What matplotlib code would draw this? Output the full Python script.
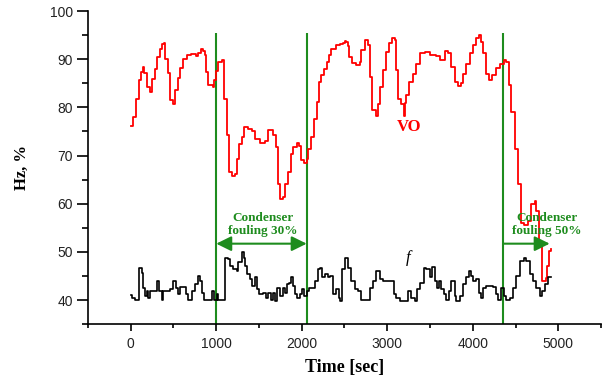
import matplotlib
matplotlib.use("Agg")
import matplotlib.pyplot as plt
from matplotlib.ticker import MultipleLocator

# VO series (red), time [sec] and value
vo_time = [0, 30, 62, 93, 120, 140, 155, 187, 225, 245, 284, 303, 342, 369, 393, 400,
           432, 459, 498, 517, 549, 576, 615, 654, 700, 760, 790, 821, 850, 868, 880, 900,
           965, 977, 997, 1024, 1063, 1090, 1093, 1129, 1148, 1180, 1218, 1238, 1265, 1304,
           1327, 1374, 1413, 1452, 1510, 1569, 1607, 1659, 1697, 1717, 1744, 1783, 1803, 1834,
           1869, 1900, 1939, 1970, 1990, 2025, 2056, 2075, 2106, 2141, 2173, 2203, 2231, 2258,
           2290, 2320, 2348, 2406, 2445, 2484, 2503, 2523, 2545, 2554, 2582, 2640, 2679, 2698,
           2737, 2776, 2796, 2827, 2874, 2893, 2921, 2951, 2983, 3021, 3061, 3088, 3107, 3126,
           3166, 3193, 3205, 3216, 3255, 3301, 3341, 3380, 3438, 3497, 3575, 3614, 3672, 3711,
           3750, 3789, 3828, 3867, 3886, 3925, 3964, 4002, 4042, 4069, 4100, 4119, 4151, 4189,
           4229, 4276, 4314, 4361, 4392, 4423, 4451, 4490, 4528, 4560, 4600, 4645, 4685, 4723,
           4743, 4774, 4813, 4852, 4867, 4890, 4918]
vo_value = [76.2, 78.1, 81.8, 85.6, 87.4, 88.4, 87.1, 84.2, 83.2, 85.8, 87.9, 90.4, 92.2, 93.1, 93.3, 90.1,
            87.1, 81.5, 80.6, 83.5, 86.0, 88.1, 90.1, 90.8, 91.0, 90.6, 91.2, 92.2, 91.6, 90.8, 87.4, 84.6,
            84.2, 85.6, 87.6, 89.4, 89.8, 89.1, 81.8, 74.2, 66.5, 65.8, 66.2, 69.3, 72.4, 73.8,
            75.9, 75.6, 75.1, 73.5, 72.6, 73.0, 75.2, 74.2, 71.8, 64.1, 61.0, 61.3, 64.1, 66.5,
            70.3, 71.8, 72.6, 72.0, 69.0, 68.4, 69.3, 71.4, 73.8, 77.6, 81.1, 85.3, 86.7, 87.9,
            89.4, 90.8, 92.2, 92.9, 93.1, 93.4, 93.8, 93.6, 92.7, 90.5, 89.2, 88.8, 89.4, 91.9,
            94.0, 92.9, 86.3, 79.4, 78.3, 80.8, 84.2, 87.7, 91.5, 93.3, 94.5, 94.0, 87.7, 81.8,
            80.8, 78.3, 81.0, 82.6, 85.3, 87.0, 89.0, 91.2, 91.5, 90.8, 90.6, 89.9, 91.7, 91.3,
            88.4, 85.3, 84.4, 85.0, 87.0, 89.0, 91.2, 92.9, 94.3, 95.0, 93.6, 91.2, 87.0, 85.6,
            86.7, 88.1, 89.1, 89.9, 89.4, 84.6, 79.0, 71.4, 64.1, 56.0, 55.5, 56.5, 59.9, 60.6,
            58.5, 51.6, 44.0, 44.6, 47.1, 50.2, 50.6]

# f series (black)
f_time = [0, 20, 50, 101, 128, 148, 167, 187, 206, 226, 304, 335, 362, 382, 460, 499,
          530, 557, 577, 647, 674, 713, 752, 791, 810, 830, 857, 947, 978, 1005, 1025, 1103,
          1142, 1161, 1200, 1239, 1259, 1298, 1325, 1337, 1356, 1395, 1414, 1453, 1473, 1504,
          1550, 1578, 1609, 1636, 1667, 1687, 1714, 1745, 1776, 1803, 1823, 1854, 1873, 1901,
          1920, 1947, 1979, 2006, 2025, 2056, 2087, 2153, 2192, 2219, 2242, 2270, 2309, 2336,
          2367, 2406, 2437, 2453, 2476, 2503, 2542, 2581, 2620, 2659, 2698, 2795, 2834, 2873,
          2912, 2951, 3080, 3107, 3146, 3243, 3282, 3321, 3348, 3380, 3426, 3458, 3497, 3528,
          3555, 3582, 3605, 3633, 3664, 3691, 3718, 3750, 3789, 3808, 3847, 3886, 3925, 3956,
          3983, 4002, 4042, 4073, 4100, 4119, 4158, 4236, 4267, 4295, 4334, 4361, 4392, 4431,
          4470, 4509, 4548, 4595, 4626, 4665, 4704, 4743, 4782, 4813, 4840, 4879, 4918]
f_value = [41.0, 40.4, 40.0, 46.7, 45.7, 42.6, 40.8, 41.9, 40.5, 41.9, 44.0, 41.9, 40.1, 41.9, 42.2, 44.0,
           42.6, 41.2, 42.7, 41.2, 40.1, 41.9, 43.3, 45.0, 44.0, 41.5, 40.1, 41.9, 40.1, 41.2, 40.1, 48.8,
           48.5, 47.1, 46.4, 46.0, 47.8, 49.9, 48.8, 47.1, 45.3, 44.3, 42.9, 44.7, 42.2, 41.2,
           41.5, 40.5, 41.5, 40.0, 41.5, 39.8, 42.6, 40.8, 42.6, 41.5, 43.3, 43.6, 44.7, 42.9,
           41.2, 40.5, 41.2, 42.2, 40.8, 41.9, 42.6, 44.0, 46.4, 46.7, 44.7, 45.3, 44.7, 45.0,
           41.2, 42.2, 40.5, 39.7, 46.4, 48.8, 46.7, 44.0, 42.2, 41.9, 40.1, 42.6, 44.0, 46.0,
           44.3, 44.0, 41.2, 40.5, 39.8, 41.9, 40.5, 39.8, 42.2, 43.6, 46.7, 46.4, 44.7, 46.9,
           44.0, 42.6, 44.0, 42.2, 41.2, 40.1, 41.9, 44.0, 40.8, 39.8, 40.8, 43.3, 44.7, 46.0,
           45.0, 44.0, 44.3, 41.5, 40.5, 42.6, 42.9, 42.7, 41.2, 40.1, 42.6, 40.8, 40.1, 40.5,
           42.6, 45.0, 48.1, 48.8, 48.1, 45.3, 44.0, 42.6, 40.8, 41.9, 43.3, 44.7, 44.7]

# event markers
fouling_lines = [1000, 2058, 4358]
x_ticks = [0, 1000, 2000, 3000, 4000, 5000]
y_ticks = [40, 50, 60, 70, 80, 90, 100]

GREEN = "#1e8c1e"
serif = "Liberation Serif"

fig = plt.figure(figsize=(6.08, 3.76), dpi=100)
ax = fig.add_axes([0.1447, 0.138, 0.8438, 0.8327])

ax.plot(vo_time, vo_value, color="red", lw=1.3, drawstyle="steps-post", zorder=3)
ax.plot(f_time, f_value, color="black", lw=1.2, drawstyle="steps-post", zorder=3)

ax.vlines(fouling_lines, 35, 95.5, color=GREEN, lw=1.5, zorder=2)

arrow_kw = dict(color=GREEN, lw=1.5, shrinkA=0, shrinkB=0)
ax.annotate("", xy=(fouling_lines[1], 51.7), xytext=(fouling_lines[0], 51.7),
            arrowprops=dict(arrowstyle="<|-|>,head_length=0.65,head_width=0.32",
                            mutation_scale=14, **arrow_kw), zorder=5)
ax.annotate("", xy=(4900, 51.7), xytext=(fouling_lines[2], 51.7),
            arrowprops=dict(arrowstyle="-|>,head_length=0.65,head_width=0.32",
                            mutation_scale=14, **arrow_kw), zorder=5)

ax.text(1546, 55.7, "Condenser\nfouling 30%", color=GREEN, ha="center", va="center",
        family=serif, weight="bold", fontsize=9.5, linespacing=1.1, zorder=6)
ax.text(4867, 55.6, "Condenser\nfouling 50%", color=GREEN, ha="center", va="center",
        family=serif, weight="bold", fontsize=9.5, linespacing=1.1, zorder=6)
ax.text(3252, 75.9, "VO", color="red", ha="center", va="center",
        family=serif, weight="bold", fontsize=12, zorder=6)
ax.text(3243, 48.8, "f", color="black", ha="center", va="center",
        family=serif, style="italic", fontsize=12, zorder=6)

ax.set_xlim(-500, 5500)
ax.set_ylim(35, 100)
ax.set_xticks(x_ticks)
ax.set_yticks(y_ticks)
ax.xaxis.set_minor_locator(MultipleLocator(500))
ax.yaxis.set_minor_locator(MultipleLocator(5))
ax.tick_params(axis="x", which="major", direction="out", length=5, width=1.2, labelsize=10, pad=4)
ax.tick_params(axis="x", which="minor", direction="out", length=3, width=1.2)
ax.tick_params(axis="y", which="major", direction="out", length=8, width=1.2, labelsize=10, pad=3)
ax.tick_params(axis="y", which="minor", direction="out", length=4, width=1.2)
for lab in ax.get_xticklabels() + ax.get_yticklabels():
    lab.set_family("Liberation Sans")
    lab.set_color("#222222")

for s in ["top", "right"]:
    ax.spines[s].set_visible(False)
for s in ["left", "bottom"]:
    ax.spines[s].set_linewidth(1.2)

ax.set_xlabel("Time [sec]", family=serif, weight="bold", fontsize=13, labelpad=6)
ax.set_ylabel("Hz, %", family=serif, weight="bold", fontsize=12, labelpad=14)

fig.savefig("out.png", dpi=100)
